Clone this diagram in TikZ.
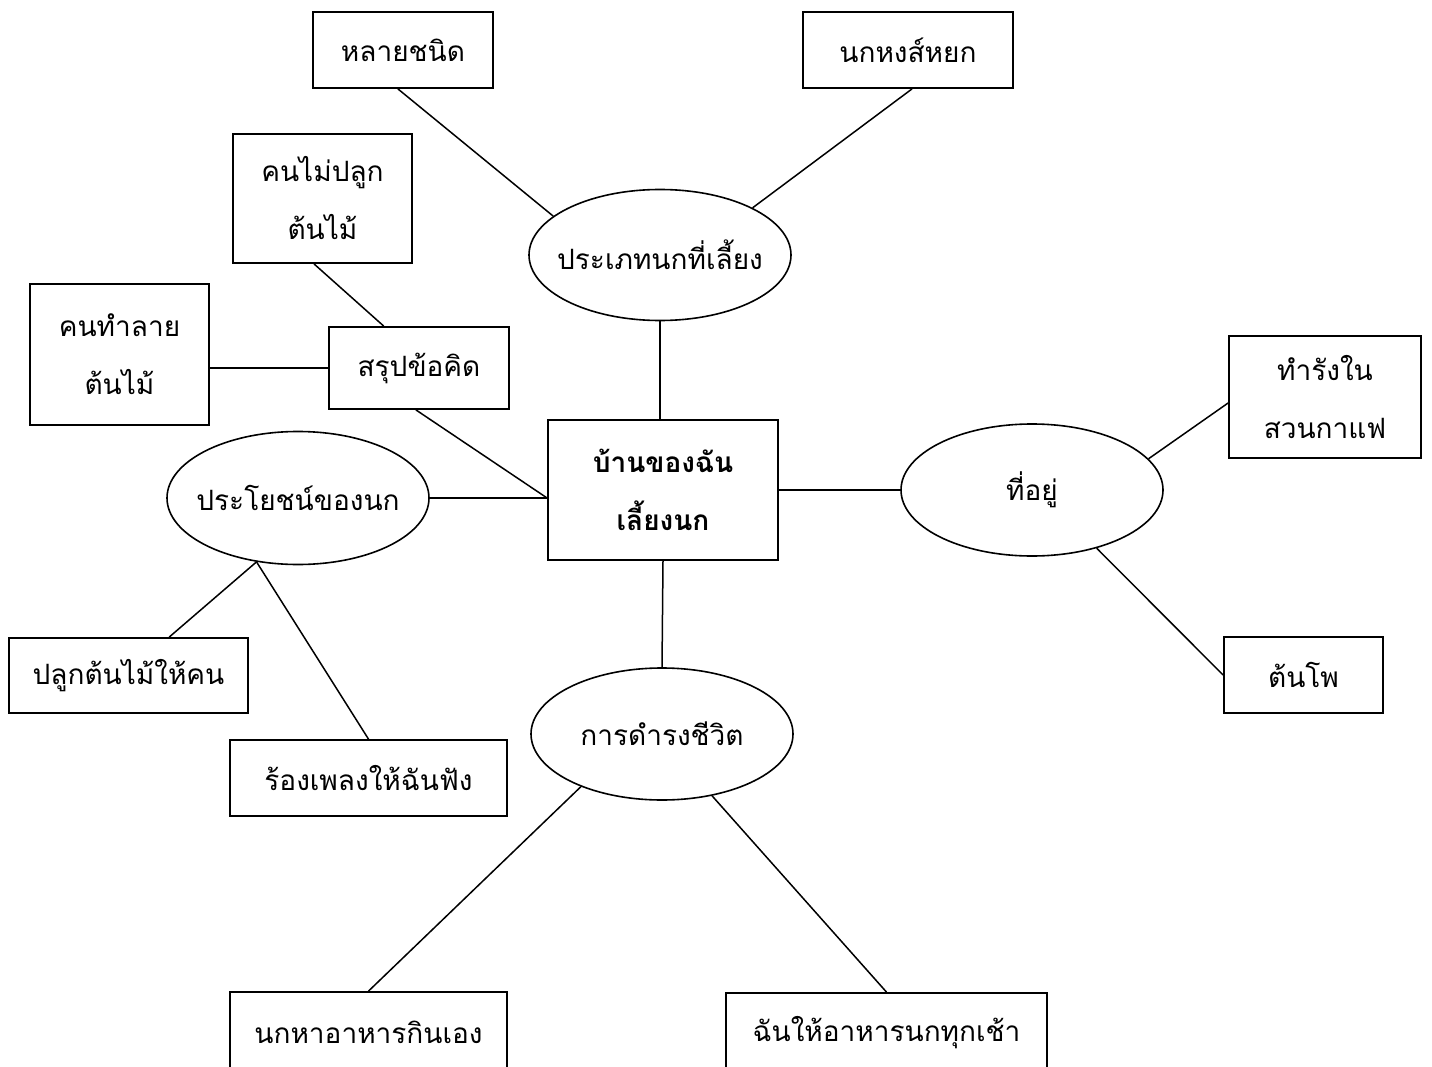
\documentclass[tikz,border=0pt]{standalone}
\usepackage{fontspec}
\newfontfamily\thai[Script=Thai]{Loma}
\usetikzlibrary{shapes.geometric,calc}
\begin{document}
\begin{tikzpicture}[x=1pt,y=-1pt,
  every node/.style={font=\thai\fontsize{28}{58}\selectfont},
  box/.style={draw,line width=1.8pt,inner sep=0pt,align=center},
  oval/.style={draw,ellipse,line width=1.6pt,inner sep=0pt},
  link/.style={line width=1.5pt}]
\fill[white] (0,0) rectangle (1432,1067);
\useasboundingbox (0,0) rectangle (1432,1067);
\clip (0,0) rectangle (1432,1067);

% boxes
\node[box,minimum width=180pt,minimum height=76pt] (hlay) at (403,50) {หลายชนิด};
\node[box,minimum width=210pt,minimum height=76pt] (nokhong) at (908,50) {นกหงส์หยก};
\node[box,minimum width=179pt,minimum height=129pt] (khonmai) at (322.5,198.5) {คนไม่ปลูก\\ต้นไม้};
\node[box,minimum width=179pt,minimum height=141pt] (khontham) at (119.5,354.5) {คนทำลาย\\ต้นไม้};
\node[box,minimum width=180pt,minimum height=82pt] (sarup) at (419,368) {สรุปข้อคิด};
\node[box,minimum width=230pt,minimum height=140pt,font=\thai\bfseries\fontsize{28}{58}\selectfont] (cbox) at (663,490) {บ้านของฉัน\\เลี้ยงนก};
\node[box,minimum width=192pt,minimum height=122pt] (thamrang) at (1325,397) {ทำรังใน\\สวนกาแฟ};
\node[box,minimum width=159pt,minimum height=76pt] (tonpho) at (1303.5,675) {ต้นโพ};
\node[box,minimum width=239pt,minimum height=75pt] (pluk) at (128.5,675.5) {ปลูกต้นไม้ให้คน};
\node[box,minimum width=277pt,minimum height=76pt] (rong) at (368.5,778) {ร้องเพลงให้ฉันฟัง};
\node[box,minimum width=277pt,minimum height=80pt] (nokha) at (368.5,1032) {นกหาอาหารกินเอง};
\node[box,minimum width=321pt,minimum height=80pt] (chan) at (886.5,1033) {ฉันให้อาหารนกทุกเช้า};

% ellipses
\node[oval,minimum width=262pt,minimum height=131pt] (prapet) at (660,255) {\makebox[0pt]{ประเภทนกที่เลี้ยง}};
\node[oval,minimum width=262pt,minimum height=132pt] (thiyu) at (1032,490) {\makebox[0pt]{ที่อยู่}};
\node[oval,minimum width=262pt,minimum height=133pt] (prayot) at (298,498) {\makebox[0pt]{ประโยชน์ของนก}};
\node[oval,minimum width=262pt,minimum height=132pt] (kan) at (662,734) {\makebox[0pt]{การดำรงชีวิต}};

\coordinate (cl) at (cbox.west |- prayot.east);

% connectors
\draw[link] ($(hlay.south west)!0.472!(hlay.south east)$) -- (prapet.160.6);
\draw[link] ($(nokhong.south west)!0.519!(nokhong.south east)$) -- (prapet.27.6);
\draw[link] (prapet.south) -- (prapet.south |- cbox.north);
\draw[link] ($(khonmai.south west)!0.453!(khonmai.south east)$) -- ($(sarup.north west)!0.306!(sarup.north east)$);
\draw[link] (sarup.west) -- (sarup.west -| khontham.east);
\draw[link] ($(sarup.south west)!0.483!(sarup.south east)$) -- (cl);
\draw[link] (prayot.east) -- (cl);
\draw[link] (cbox.east) -- (thiyu.west);
\draw[link] (thiyu.15.5) -- ($(thamrang.west)+(0,6)$);
\draw[link] (thiyu.-42) -- (tonpho.west);
\draw[link] (prayot.237.8) -- ($(pluk.north west)!0.669!(pluk.north east)$);
\draw[link] (prayot.237.8) -- (rong.north);
\draw[link] (cbox.south) -- (kan.north);
\draw[link] (kan.213.9) -- (nokha.north);
\draw[link] (kan.-51.2) -- (chan.north);
\end{tikzpicture}
\end{document}
